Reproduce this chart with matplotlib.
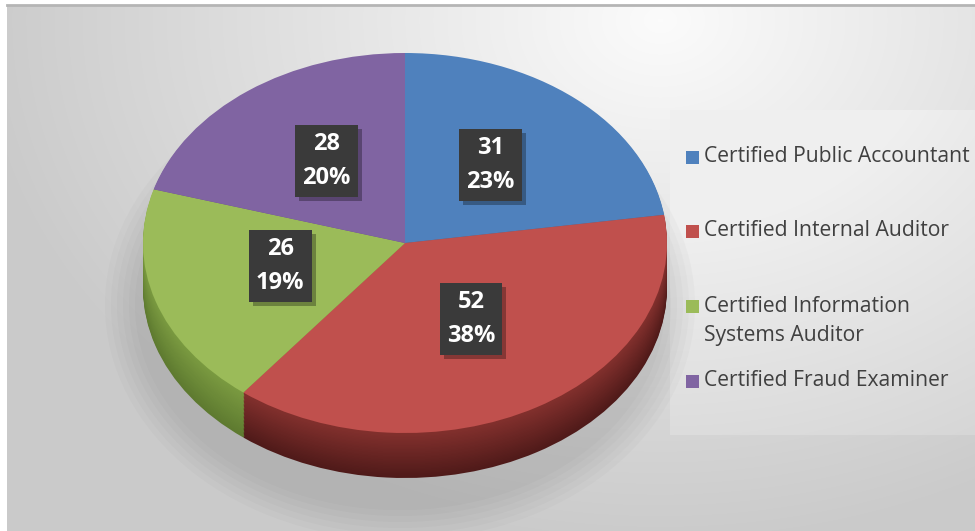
import numpy as np
import matplotlib
matplotlib.use("Agg")
import matplotlib.pyplot as plt
import matplotlib.patheffects as pe
from matplotlib.patches import Ellipse, Rectangle

categories = ["Certified Public Accountant", "Certified Internal Auditor",
              "Certified Information\nSystems Auditor", "Certified Fraud Examiner"]
counts = [31, 52, 26, 28]
top_colors = ["#4f81bd", "#c0504d", "#9bbb59", "#8064a2"]
side_top = ["#3d6896", "#82302d", "#7a9a40", "#654e85"]
side_bot = ["#2c4c70", "#4f1a19", "#5e7a30", "#4d3b66"]

W, H = 975, 531
fig = plt.figure(figsize=(9.75, 5.31), dpi=100)

# background gradient
bg = fig.add_axes([0, 0, 1, 1])
bg.axis("off")
yy, xx = np.mgrid[0:H, 0:W]
d = np.hypot((xx - 660) / 680.0, (yy - 20) / 520.0)
g = 0.985 - 0.19 * np.clip(d, 0, 1)
g[110:435, 670:] = np.minimum(g[110:435, 670:] + 0.03, 0.94)
g[:5, :] = 1.0
g[:, :7] = 1.0
bg.imshow(np.dstack([g, g, g]), extent=(0, W, H, 0), aspect="auto")
bg.plot([7, W], [5, 5], color="#b5b5b5", lw=2)
bg.set_xlim(0, W)
bg.set_ylim(H, 0)

# soft shadow under the pie
for k in range(6):
    bg.add_patch(Ellipse((400, 305), 530 + 12 * k, 410 + 12 * k, color="#6a6a6a",
                         alpha=0.04, lw=0, zorder=2))

# pie axes: y squashed so the pie is an ellipse
cx, cy_px, rx, ry, depth = 405, 243, 262, 190, 45
s = ry / rx
ax = fig.add_axes([0, 0, 1, 1])
ax.patch.set_alpha(0)
cy = (H - cy_px) / s

n_layers = 34
for k, off in enumerate(np.linspace(depth, 1, n_layers)):
    t = k / (n_layers - 1)
    cols = []
    for a, b in zip(side_bot, side_top):
        ca = np.array(matplotlib.colors.to_rgb(a))
        cb = np.array(matplotlib.colors.to_rgb(b))
        cols.append(ca + (cb - ca) * t)
    ax.pie(counts, colors=cols, startangle=90, counterclock=False,
           center=(cx, cy - off / s), radius=rx, wedgeprops=dict(linewidth=0))

total = sum(counts)
wedges, texts, autotexts = ax.pie(
    counts, colors=top_colors, startangle=90, counterclock=False,
    center=(cx, cy), radius=rx,
    autopct=lambda p: "{}\n{:.0f}%".format(int(round(p * total / 100)), p),
    pctdistance=0.5, wedgeprops=dict(linewidth=0),
    textprops=dict(color="white", fontsize=17, fontweight="bold", family="Open Sans"))
for t in autotexts:
    x, y = t.get_position()
    t.set_position((x, y + 6 / s))
    t.set_linespacing(1.55)
    t.set_zorder(6)
    t.set_bbox(dict(boxstyle="square,pad=0.3", fc="#3a3a3a", ec="none"))
    t.get_bbox_patch().set_path_effects(
        [pe.SimplePatchShadow(offset=(3, -3), shadow_rgbFace="black", alpha=0.3), pe.Normal()])

ax.set_aspect("auto")
ax.set_xlim(0, W)
ax.set_ylim(0, H / s)
ax.axis("off")

# legend
leg_y = [157, 231, 306, 381]
for lab, col, y in zip(categories, top_colors, leg_y):
    bg.add_patch(Rectangle((686, y - 6.5), 13, 13, color=col, lw=0, zorder=5))
    for i, line in enumerate(lab.split("\n")):
        bg.text(704, y + 30 * i, line, fontsize=15.2, color="#404040",
                family="Open Sans", va="center", ha="left", zorder=5)

fig.savefig("out.png", dpi=100)
